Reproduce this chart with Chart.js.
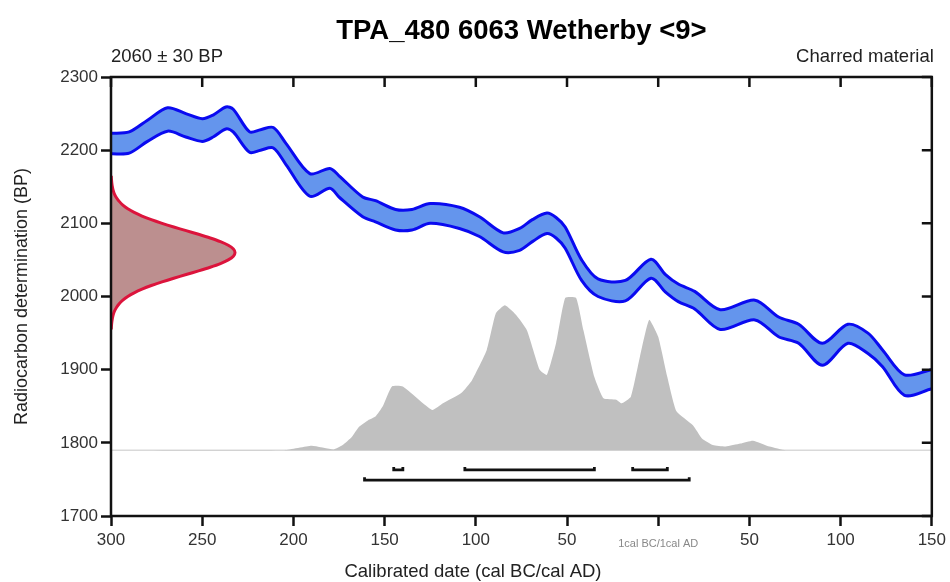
<!DOCTYPE html>
<html>
<head>
<meta charset="utf-8">
<script src="https://cdn.jsdelivr.net/npm/chart.js@4.4.1/dist/chart.umd.min.js"></script>
<style>
    html, body { margin: 0; padding: 0; background: #fff; }
    canvas { display: block; }
</style>
</head>
<body>
<canvas id="canvas1" width="950" height="582"></canvas>
<script>
// years: negative = cal BC, positive = cal AD, 0 = 1 cal BC / 1 cal AD boundary
var xTickLabels = ['300', '250', '200', '150', '100', '50', '1cal BC/1cal AD', '50', '100', '150'];

// calibration curve band (BP)
var curveYears = [-300, -290, -280, -269, -259, -250, -244, -237, -233, -224, -218, -211, -204, -191, -180, -175,
    -162, -155, -144, -135, -125, -109, -98, -85, -76, -69, -61, -56, -51, -42, -33, -18, -4, 4, 11, 20, 34,
    53, 66, 77, 90, 104, 115, 123, 135, 150];
var curveUpper = [2223, 2225, 2241, 2258, 2250, 2243, 2248, 2259, 2256, 2225, 2228, 2231, 2209, 2168, 2175, 2165,
    2136, 2131, 2119, 2119, 2127, 2122, 2109, 2087, 2093, 2105, 2114, 2108, 2095, 2050, 2024, 2022, 2051, 2030, 2017, 2007, 1982,
    1995, 1972, 1962, 1936, 1962, 1950, 1927, 1893, 1900];
var curveLower = [2195, 2196, 2212, 2226, 2218, 2212, 2218, 2229, 2225, 2197, 2200, 2203, 2180, 2137, 2148, 2136,
    2109, 2102, 2091, 2091, 2100, 2093, 2082, 2061, 2063, 2075, 2086, 2080, 2066, 2022, 2000, 1994, 2025, 2006, 1993, 1983, 1955,
    1968, 1945, 1936, 1906, 1936, 1922, 1904, 1865, 1874];

// radiocarbon measurement 2060 +/- 30 BP (width in years from the axis)
var measureBP = [1955, 1960, 1965, 1970, 1975, 1980, 1985, 1990, 1995, 2000, 2005, 2010, 2015, 2020, 2025, 2030,
    2035, 2040, 2045, 2050, 2055, 2060, 2065, 2070, 2075, 2080, 2085, 2090, 2095, 2100, 2105, 2110, 2115, 2120,
    2125, 2130, 2135, 2140, 2145, 2150, 2155, 2160, 2165];
var measureWidth = [0.15, 0.26, 0.46, 0.76, 1.2, 1.9, 3.0, 4.5, 6.5, 9.2, 12.7, 17.0, 22.1, 28.0, 34.4, 41.2,
    48.0, 54.4, 60.0, 64.3, 67.1, 68, 67.1, 64.3, 60.0, 54.4, 48.0, 41.2, 34.4, 28.0, 22.1, 17.0, 12.7, 9.2,
    6.5, 4.5, 3.0, 1.9, 1.2, 0.76, 0.46, 0.26, 0.15];

// calibrated probability distribution (top edge, BP units above the baseline)
var probBase = 1790;
var probYears = [-300, -205, -190, -178, -173, -168, -164, -159, -155, -151, -146, -140, -124, -118, -108, -102,
    -94, -89, -84, -78, -72, -65, -61, -56, -51, -45, -41, -35, -30, -23, -20, -15, -10, -5, 0, 5, 10, 19, 24,
    30, 37, 45, 52, 61, 70, 150];
var probBP = [1790, 1790, 1796, 1791, 1797, 1808, 1822, 1831, 1836, 1850, 1877, 1877, 1845, 1854, 1868, 1886,
    1927, 1977, 1988, 1975, 1954, 1900, 1893, 1936, 1998, 1998, 1954, 1890, 1861, 1859, 1854, 1863, 1918, 1968, 1945, 1890, 1843, 1824, 1806,
    1797, 1795, 1799, 1803, 1795, 1790, 1790];

// ranges 68.2% and 95.4%
var ranges68 = [[-145, -140], [-106, -35], [-14, 5]];
var ranges95 = [[-161, 17]];

var FONT = '"Liberation Sans", Arial, sans-serif';

function pts(xs, ys) {
    return xs.map(function (x, i) { return { x: x, y: ys[i] }; });
}

function bracketSets(ranges, row) {
    return ranges.map(function (r) {
        return {
            data: [{ x: r[0], y: row + 4 }, { x: r[0], y: row }, { x: r[1], y: row }, { x: r[1], y: row + 4 }],
            borderColor: '#111',
            borderWidth: 2.8,
            pointRadius: 0,
            tension: 0,
            fill: false,
            order: 4
        };
    });
}

var datasets = [
    {
        data: [{ x: -300, y: probBase }, { x: 150, y: probBase }],
        borderColor: '#d9d9d9',
        borderWidth: 1.5,
        pointRadius: 0,
        fill: false,
        order: 7
    },
    {
        data: pts(probYears, probBP),
        borderColor: 'rgb(192,192,192)',
        borderWidth: 0,
        backgroundColor: 'rgb(192,192,192)',
        pointRadius: 0,
        tension: 0.15,
        fill: { value: probBase },
        order: 6
    },
    {
        data: pts(curveYears, curveUpper),
        borderColor: 'rgb(10,10,240)',
        borderWidth: 3,
        pointRadius: 0,
        tension: 0.3,
        fill: false,
        order: 3
    },
    {
        data: pts(curveYears, curveLower),
        borderColor: 'rgb(10,10,240)',
        backgroundColor: 'rgb(100,149,237)',
        borderWidth: 3,
        pointRadius: 0,
        tension: 0.3,
        fill: '-1',
        order: 3
    },
    {
        data: measureBP.map(function (bp, i) { return { x: -300 + measureWidth[i], y: bp }; }),
        borderColor: 'rgb(220,20,60)',
        backgroundColor: 'rgb(188,143,143)',
        borderWidth: 3,
        pointRadius: 0,
        tension: 0.3,
        fill: 'shape',
        order: 1
    }
].concat(bracketSets(ranges68, 1763), bracketSets(ranges95, 1749));

var framePlugin = {
    id: 'frame',
    afterDatasetsDraw: function (chart) {
        var ctx = chart.ctx, a = chart.chartArea;
        var xs = chart.scales.x, ys = chart.scales.y;
        ctx.save();
        ctx.strokeStyle = '#111';
        ctx.lineWidth = 2.5;
        ctx.strokeRect(a.left, a.top, a.right - a.left, a.bottom - a.top);
        ctx.beginPath();
        xs.ticks.forEach(function (t) {
            var px = xs.getPixelForValue(t.value);
            ctx.moveTo(px, a.top);
            ctx.lineTo(px, a.top + 10);
        });
        ys.ticks.forEach(function (t) {
            var py = ys.getPixelForValue(t.value);
            ctx.moveTo(a.right, py);
            ctx.lineTo(a.right - 10, py);
        });
        ctx.stroke();
        ctx.restore();
    },
    afterDraw: function (chart) {
        var ctx = chart.ctx, a = chart.chartArea;
        ctx.save();
        ctx.fillStyle = '#000';
        ctx.textBaseline = 'middle';
        ctx.textAlign = 'center';
        ctx.font = 'bold 27.5px ' + FONT;
        ctx.fillText('TPA_480 6063 Wetherby <9>', (a.left + a.right) / 2, 31);
        ctx.font = '18.5px ' + FONT;
        ctx.fillStyle = '#222';
        ctx.textAlign = 'left';
        ctx.fillText('2060 \u00b1 30 BP', a.left, 57);
        ctx.textAlign = 'right';
        ctx.fillText('Charred material', a.right + 2, 57);
        ctx.textAlign = 'center';
        ctx.fillText('Calibrated date (cal BC/cal AD)', 473, 572);
        ctx.restore();
    }
};

new Chart(document.getElementById('canvas1'), {
    type: 'line',
    data: { datasets: datasets },
    options: {
        responsive: false,
        animation: false,
        devicePixelRatio: 1,
        layout: { padding: { top: 77, right: 18, left: 0, bottom: 0 } },
        plugins: {
            legend: { display: false },
            tooltip: { enabled: false }
        },
        scales: {
            x: {
                type: 'linear',
                min: -300,
                max: 150,
                afterFit: function (s) { s.height = 66; },
                border: { display: false },
                grid: { drawOnChartArea: false, tickLength: 10, tickColor: '#111', tickWidth: 2.5 },
                ticks: {
                    stepSize: 50,
                    autoSkip: false,
                    maxRotation: 0,
                    padding: 4,
                    callback: function (v, i) { return xTickLabels[i]; },
                    font: function (c) {
                        return (c.tick && c.tick.value === 0)
                            ? { family: FONT, size: 11, lineHeight: 2.5 }
                            : { family: FONT, size: 17 };
                    },
                    color: function (c) {
                        return (c.tick && c.tick.value === 0) ? '#888' : '#333';
                    }
                }
            },
            y: {
                min: 1700,
                max: 2300,
                afterFit: function (s) { s.width = 111; },
                border: { display: false },
                grid: { drawOnChartArea: false, tickLength: 10, tickColor: '#111', tickWidth: 2.5 },
                ticks: {
                    stepSize: 100,
                    padding: 3,
                    color: '#333',
                    font: { family: FONT, size: 17 },
                    callback: function (v) { return String(v); }
                },
                title: {
                    display: true,
                    text: 'Radiocarbon determination (BP)',
                    color: '#222',
                    font: { family: FONT, size: 18 },
                    padding: { top: 11, bottom: 0 }
                }
            }
        }
    },
    plugins: [framePlugin]
});
</script>
</body>
</html>
